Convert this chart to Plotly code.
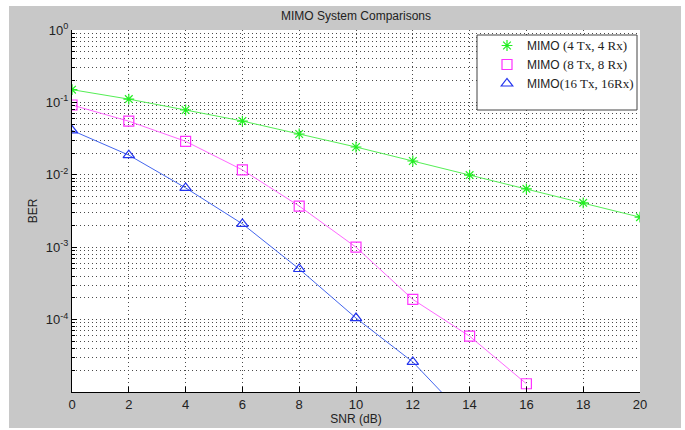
import plotly.graph_objects as go

# ---------------- data ----------------
snr_db = [0, 2, 4, 6, 8, 10, 12, 14, 16, 18, 20]
ber_4x4 = [0.150, 0.111, 0.0785, 0.0553, 0.0366, 0.0242, 0.0155, 0.0099, 0.0064, 0.0041, 0.0026]

snr_8x8 = [0, 2, 4, 6, 8, 10, 12, 14, 16]
ber_8x8 = [0.092, 0.055, 0.029, 0.0117, 0.0037, 0.00100, 0.00019, 0.000059, 0.000013]

snr_16x16 = [0, 2, 4, 6, 8, 10, 12, 14]
ber_16x16 = [0.041, 0.0187, 0.0066, 0.0021, 0.00050, 0.000105, 0.000026, 0.0000039]

names = [
    'MIMO <span style="font-family:Liberation Serif, Times New Roman, serif;font-size:13px">(4 Tx, 4 Rx)</span>',
    'MIMO <span style="font-family:Liberation Serif, Times New Roman, serif;font-size:13px">(8 Tx, 8 Rx)</span>',
    'MIMO<span style="font-family:Liberation Serif, Times New Roman, serif;font-size:13px">(16 Tx, 16Rx)</span>',
]
colors = ["#22ee22", "#ff33ff", "#2233ee"]
line_colors = ["#55ee55", "#ff66ff", "#4466ee"]
symbols = ["asterisk-open", "square-open", "triangle-up-open"]
msizes = [9, 10, 10]

y_major = [1e0, 1e-1, 1e-2, 1e-3, 1e-4]
y_major_text = ["10<sup>0</sup>", "10<sup>-1</sup>", "10<sup>-2</sup>", "10<sup>-3</sup>", "10<sup>-4</sup>"]
y_minor = [m * 10.0 ** e for e in range(-5, 0) for m in range(2, 10)]
x_ticks = [0, 2, 4, 6, 8, 10, 12, 14, 16, 18, 20]

series = [(snr_db, ber_4x4), (snr_8x8, ber_8x8), (snr_16x16, ber_16x16)]

fig = go.Figure()
for (xs, ys), lc in zip(series, line_colors):
    fig.add_trace(go.Scatter(x=xs, y=ys, mode="lines", line=dict(color=lc, width=1),
                             showlegend=False, hoverinfo="skip"))
for (xs, ys), c, s, ms, n in zip(series, colors, symbols, msizes, names):
    fig.add_trace(go.Scatter(x=xs, y=ys, mode="markers", name=n,
                             marker=dict(symbol=s, size=ms, color=c, line=dict(color=c, width=1.2))))

FONT = "Arial, Liberation Sans, Helvetica, sans-serif"
GRID = dict(gridcolor="#4a4a4a", gridwidth=1, griddash="1px,3px")

L, R, T, B = 72, 640, 30, 392
W, H = 685, 430
def px(xp):
    return (xp - L) / (R - L)
def py(yp):
    return (B - yp) / (B - T)

shapes = [
    # white page strips around the grey figure background
    dict(type="rect", xref="paper", yref="paper", x0=px(-5), x1=px(9), y0=py(H + 5), y1=py(-5),
         fillcolor="white", line=dict(width=0), layer="below"),
    dict(type="rect", xref="paper", yref="paper", x0=px(-5), x1=px(W + 5), y0=py(6), y1=py(-5),
         fillcolor="white", line=dict(width=0), layer="below"),
    dict(type="rect", xref="paper", yref="paper", x0=px(681), x1=px(W + 5), y0=py(H + 5), y1=py(-5),
         fillcolor="white", line=dict(width=0), layer="below"),
    dict(type="rect", xref="paper", yref="paper", x0=px(-5), x1=px(W + 5), y0=py(H + 5), y1=py(428),
         fillcolor="white", line=dict(width=0), layer="below"),
    # legend box
    dict(type="rect", xref="paper", yref="paper", x0=px(477), x1=px(637), y0=py(110), y1=py(35),
         fillcolor="white", line=dict(color="#444444", width=1), layer="above"),
]

fig.update_layout(
    width=W, height=H,
    margin=dict(l=L, r=W - R, t=T, b=H - B, autoexpand=False),
    paper_bgcolor="#c8c8c8",
    plot_bgcolor="white",
    font=dict(family=FONT, size=12, color="#222222"),
    title=dict(text="MIMO System Comparisons", x=px(356), xref="paper", xanchor="center",
               y=1 - 16 / H, yanchor="middle", font=dict(size=12, color="#222222")),
    showlegend=True,
    legend=dict(x=px(487), xanchor="left", y=py(31), yanchor="top",
                bgcolor="rgba(0,0,0,0)", borderwidth=0,
                font=dict(family=FONT, size=12, color="#222222"), tracegroupgap=0),
    shapes=shapes,
)

fig.update_xaxes(
    range=[0, 20], tickmode="array", tickvals=x_ticks, ticktext=[str(v) for v in x_ticks],
    showline=True, linecolor="#000000", linewidth=1, mirror=False, automargin=False,
    ticks="inside", ticklen=5, tickcolor="#000000", showgrid=True, zeroline=False,
    tickfont=dict(size=13),
    title=dict(text="SNR (dB)", standoff=2, font=dict(size=12)),
    **GRID,
)
fig.update_yaxes(
    type="log", range=[-5, 0], tickmode="array", tickvals=y_major, ticktext=y_major_text,
    showline=True, linecolor="#000000", linewidth=1, mirror=False, automargin=False,
    ticks="inside", ticklen=5, tickcolor="#000000", showgrid=True, zeroline=False,
    tickfont=dict(size=13),
    title=dict(text="BER", standoff=5, font=dict(size=12)),
    minor=dict(tickmode="array", tickvals=y_minor, ticks="inside", ticklen=3, tickcolor="#000000",
               showgrid=True, **GRID),
    **GRID,
)

fig.write_html("out.html", config={"displayModeBar": False},
               post_script="document.body.style.margin='0';")
